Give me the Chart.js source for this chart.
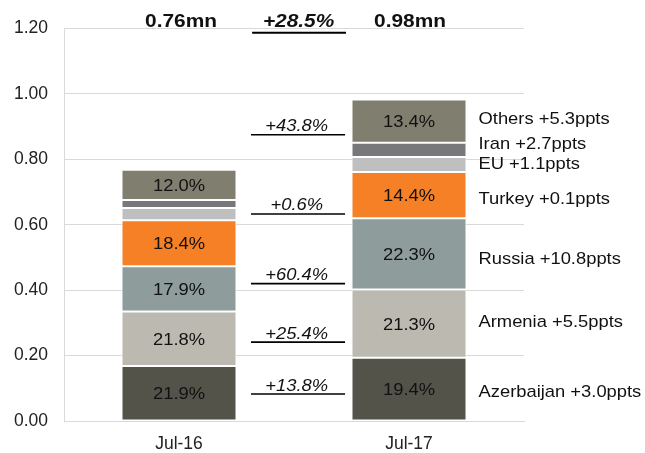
<!DOCTYPE html>
<html>
<head>
<meta charset="utf-8">
<script src="https://cdn.jsdelivr.net/npm/chart.js@4/dist/chart.umd.min.js"></script>
<style>
  html, body { margin: 0; padding: 0; background: #ffffff; }
  #wrap { width: 645px; height: 453px; }
</style>
</head>
<body>
<div id="wrap"><canvas id="c" width="645" height="453"></canvas></div>
<script>
// ---- data (mn) ----
const categories = ['Jul-16', 'Jul-17'];
const seriesNames = ['Azerbaijan', 'Armenia', 'Russia', 'Turkey', 'EU', 'Iran', 'Others'];
const azerbaijan = [0.168, 0.193];
const armenia    = [0.167, 0.209];
const russia     = [0.138, 0.218];
const turkey     = [0.141, 0.141];
const eu         = [0.037, 0.046];
const iran       = [0.025, 0.044];
const others     = [0.092, 0.132];

// share labels shown inside the bars (null = not shown)
const azerbaijanShare = ['21.9%', '19.4%'];
const armeniaShare    = ['21.8%', '21.3%'];
const russiaShare     = ['17.9%', '22.3%'];
const turkeyShare     = ['18.4%', '14.4%'];
const euShare         = [null, null];
const iranShare       = [null, null];
const othersShare     = ['12.0%', '13.4%'];

// contribution to growth, shown on the right
const contribution = ['+3.0ppts', '+5.5ppts', '+10.8ppts', '+0.1ppts', '+1.1ppts', '+2.7ppts', '+5.3ppts'];
// growth rates, shown between the bars
const growthLabels = ['+13.8%', '+25.4%', '+60.4%', '+0.6%', '+43.8%'];
const totalLabels = ['0.76mn', '0.98mn'];
const totalGrowth = '+28.5%';

// ---- layout settings (not data) ----
const growthLineAt = [0.0825, 0.241, 0.420, 0.633, 0.875];       // y value of each underline
const rightLabelAt = [0.074, 0.288, 0.481, 0.664, 0.770, 0.832, 0.909]; // baseline y value
const colors = ['#54534a', '#bcb9b1', '#8e9c9b', '#f58025', '#bfbfbf', '#78787a', '#7f7e6f'];
const FONT = '"Liberation Sans", Arial, sans-serif';
const SX = 1.08;

const seriesValues = [azerbaijan, armenia, russia, turkey, eu, iran, others];
const seriesShares = [azerbaijanShare, armeniaShare, russiaShare, turkeyShare, euShare, iranShare, othersShare];

function sText(ctx, txt, x, y, font, align, sx) {
  ctx.save();
  ctx.font = font;
  ctx.textBaseline = 'alphabetic';
  ctx.textAlign = 'left';
  const w = ctx.measureText(txt).width * sx;
  const left = align === 'center' ? x - w / 2 : (align === 'right' ? x - w : x);
  ctx.translate(left, y);
  ctx.scale(sx, 1);
  ctx.fillStyle = '#111111';
  ctx.fillText(txt, 0, 0);
  ctx.restore();
  return { left: left, right: left + w };
}

const annot = {
  id: 'annot',
  afterDatasetsDraw(chart) {
    const ctx = chart.ctx;
    const xs = chart.scales.x, ys = chart.scales.y;
    // share labels inside segments
    chart.data.datasets.forEach((ds, di) => {
      const meta = chart.getDatasetMeta(di);
      meta.data.forEach((el, i) => {
        const lab = seriesShares[di][i];
        if (!lab) return;
        const cy = (el.y + el.base) / 2;
        sText(ctx, lab, el.x, cy + 6, '17px ' + FONT, 'center', SX);
      });
    });
    const x0 = xs.getPixelForValue(0), x1 = xs.getPixelForValue(1);
    const span = x1 - x0;
    // growth annotations between bars
    ctx.save();
    ctx.strokeStyle = '#000000';
    ctx.lineWidth = 1.6;
    growthLabels.forEach((g, i) => {
      const y = ys.getPixelForValue(growthLineAt[i]);
      ctx.beginPath();
      ctx.moveTo(x0 + 0.313 * span, y);
      ctx.lineTo(x0 + 0.722 * span, y);
      ctx.stroke();
      sText(ctx, g, x0 + 0.512 * span, y - 3.5, 'italic 17px ' + FONT, 'center', SX);
    });
    ctx.restore();
    // right labels
    const meta2 = chart.getDatasetMeta(0).data[1];
    const rx = meta2.x + meta2.width / 2 + 12;
    seriesNames.forEach((n, i) => {
      sText(ctx, n + ' ' + contribution[i], rx, ys.getPixelForValue(rightLabelAt[i]), '17px ' + FONT, 'left', SX);
    });
    // totals on top
    const topY = 27;
    sText(ctx, totalLabels[0], x0 + 2, topY, 'bold 18px ' + FONT, 'center', 1.16);
    sText(ctx, totalLabels[1], x1 + 1, topY, 'bold 18px ' + FONT, 'center', 1.16);
    sText(ctx, totalGrowth, x0 + 0.52 * span, topY, 'italic bold 18px ' + FONT, 'center', 1.16);
    ctx.save();
    ctx.strokeStyle = '#000000';
    ctx.lineWidth = 2;
    ctx.beginPath();
    ctx.moveTo(x0 + 0.318 * span, 32.7);
    ctx.lineTo(x0 + 0.726 * span, 32.7);
    ctx.stroke();
    ctx.restore();
  }
};

new Chart(document.getElementById('c'), {
  type: 'bar',
  data: {
    labels: categories,
    datasets: seriesNames.map((n, i) => ({
      label: n,
      data: seriesValues[i],
      backgroundColor: colors[i],
      borderColor: '#ffffff',
      borderWidth: 1,
      borderSkipped: false,
      barPercentage: 0.5,
      categoryPercentage: 1.0
    }))
  },
  options: {
    responsive: false,
    animation: false,
    devicePixelRatio: 1,
    layout: { padding: { top: 28.5, right: 121, left: 0, bottom: 0 } },
    plugins: { legend: { display: false }, tooltip: { enabled: false } },
    scales: {
      x: {
        stacked: true,
        grid: { display: false, drawTicks: false },
        border: { display: true, color: '#d9d9d9', width: 1 },
        ticks: { color: '#222222', font: { family: FONT, size: 17.5 }, padding: 13 },
        afterFit(s) { s.height = 32; }
      },
      y: {
        stacked: true,
        min: 0, max: 1.2,
        grid: { color: '#d9d9d9', lineWidth: 1, drawTicks: false },
        border: { display: true, color: '#d9d9d9', width: 1 },
        ticks: {
          stepSize: 0.2,
          color: '#222222',
          font: { family: FONT, size: 17.5 },
          padding: 16,
          callback: (v) => Number(v).toFixed(2)
        },
        afterFit(s) { s.width = 64; }
      }
    }
  },
  plugins: [annot]
});
</script>
</body>
</html>
